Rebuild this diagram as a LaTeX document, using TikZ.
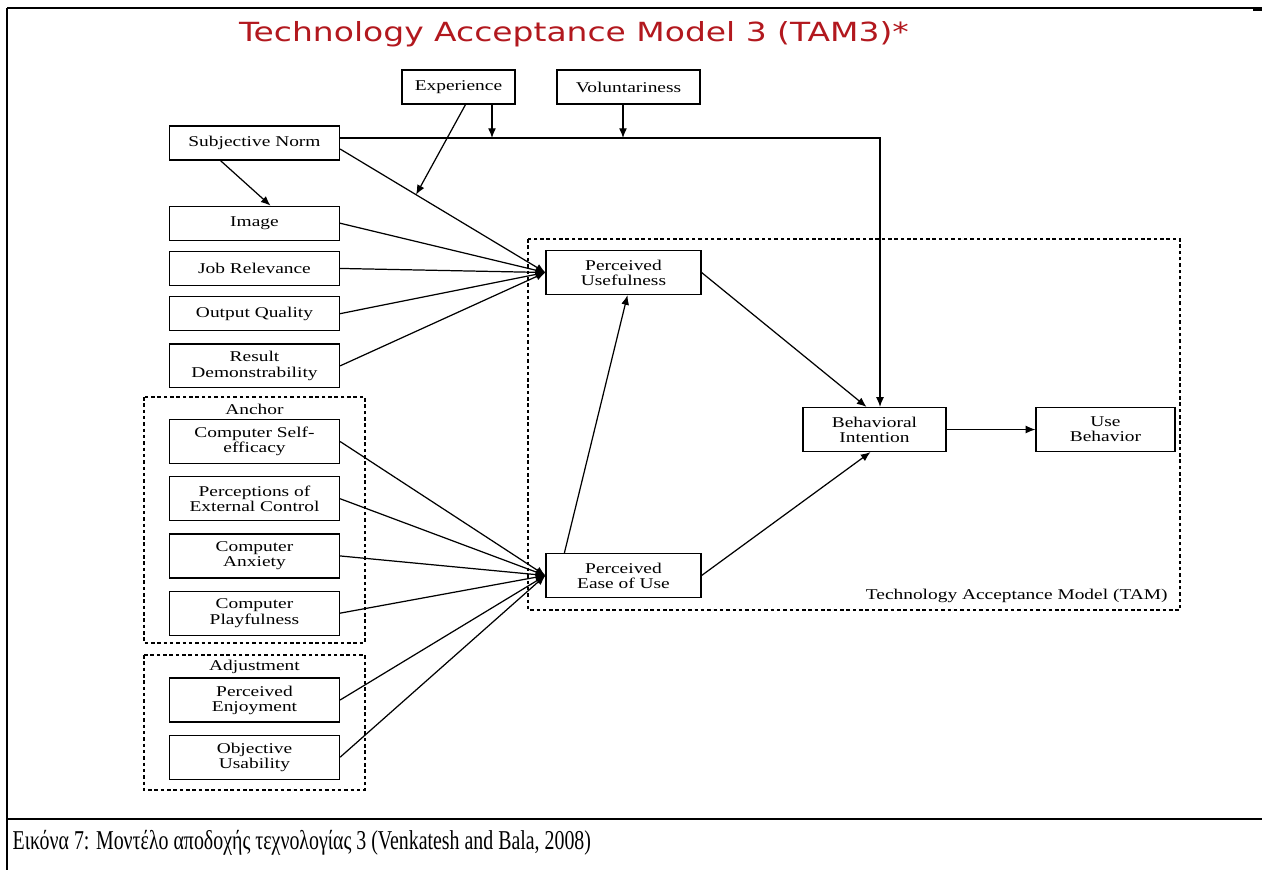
\documentclass[tikz,border=0pt]{standalone}
\usepackage{fontspec}
\usepackage{tikz}
\usetikzlibrary{positioning,calc,arrows.meta}
\newfontfamily\boxfont{Liberation Serif}[FakeStretch=1.3]
\newfontfamily\titlefont{DejaVu Sans}[FakeStretch=1.25]
\newfontfamily\capfont{Liberation Serif}[FakeStretch=0.73]
\definecolor{titlered}{RGB}{178,24,30}

\begin{document}
\begin{tikzpicture}[x=0.02cm,y=-0.02cm,line width=0.7pt,
		font=\boxfont\fontsize{8.5}{8.6}\selectfont,
		factor/.style={draw, align=center, minimum width=3.4cm, minimum height=0.68cm, inner sep=1pt},
		twoline/.style={factor, minimum height=0.88cm},
		groupbox/.style={draw, dash pattern=on 2pt off 1.6pt, line width=0.8pt},
		arr/.style={-{Latex[length=5.5pt,width=4.5pt]}}]
		\useasboundingbox (0,0) rectangle (1262,870);

		% frame of the table cell
		\draw[line width=1pt] (7,8) -- (1254,8);
		\draw[line width=1.8pt] (1253,9) -- (1262,9);
		\draw[line width=1pt] (7,8) -- (7,870);
		\draw[line width=1.6pt] (7,819) -- (1262,819);

		\node[font=\titlefont\fontsize{15}{16}\selectfont, text=titlered] (title) at (574,34) {Technology Acceptance Model 3 (TAM3)*};

		\node[factor, minimum width=2.26cm] (exp) at (458.5,87) {Experience};
		\node[factor, minimum width=2.86cm] (vol) at (628.5,87) {Voluntariness};

		\node[factor] (sn) at (254.5,143) {Subjective Norm};
		\node[factor, below=0.9cm of sn] (img) {Image};
		\node[factor, below=0.2cm of img] (jr) {Job Relevance};
		\node[factor, below=0.2cm of jr] (oq) {Output Quality};
		\node[twoline, below=0.24cm of oq] (rd) {Result\\Demonstrability};

		% anchor group
		\draw[groupbox] (144,397) rectangle (365,643);
		\node (anchorlbl) at (254.5,409) {Anchor};
		\node[twoline] (cse) at (254.5,441.5) {Computer Self-\\efficacy};
		\node[twoline, below=0.24cm of cse] (pec) {Perceptions of\\External Control};
		\node[twoline, below=0.24cm of pec] (ca) {Computer\\Anxiety};
		\node[twoline, below=0.24cm of ca] (cp) {Computer\\Playfulness};

		% adjustment group
		\draw[groupbox] (144,655) rectangle (365,790);
		\node (adjlbl) at (254.5,667) {Adjustment};
		\node[twoline] (pe) at (254.5,700) {Perceived\\Enjoyment};
		\node[twoline, below=0.24cm of pe] (ou) {Objective\\Usability};

		% TAM core
		\draw[groupbox] (528,239) rectangle (1180,610);
		\node[anchor=east] (tamlbl) at (1174,596) {Technology Acceptance Model (TAM)};
		\node[twoline, minimum width=3.1cm] (pu) at (623.5,272.5) {Perceived\\Usefulness};
		\node[twoline, minimum width=3.1cm] (peou) at (623.5,575.5) {Perceived\\Ease of Use};
		\node[twoline, minimum width=2.86cm] (bi) at (874.5,429.5) {Behavioral\\Intention};
		\node[twoline, minimum width=2.78cm] (ub) at (1105.5,429.5) {Use\\Behavior};

		\coordinate (snout) at ($(sn.east)+(0,6)$);
		\coordinate (m1) at (492,138);
		\coordinate (m2) at (623,138);
		\coordinate (m3) at ($(snout)!0.37!(pu.west)$);

		\draw (img.east) edge[arr] (pu.west)
		(jr.east) edge[arr] (pu.west)
		(oq.east) edge[arr] (pu.west)
		(rd.east) edge[arr] (pu.west)
		(snout) edge[arr] (pu.west)
		(cse.east) edge[arr] (peou.west)
		(pec.east) edge[arr] (peou.west)
		(ca.east) edge[arr] (peou.west)
		(cp.east) edge[arr] (peou.west)
		(pe.east) edge[arr] (peou.west)
		(ou.east) edge[arr] (peou.west)
		(bi.east) edge[arr] (ub.west);

		\draw[arr] ($(sn.south)+(-34,0)$) -- ($(img.north)+(16,0)$);
		\draw[arr] ($(exp.south)+(7,0)$) -- (m3);
		\draw[arr] (exp.south -| m1) -- (m1);
		\draw[arr] (vol.south -| m2) -- (m2);
		\draw[arr] ($(sn.east)+(0,-5)$) -- (880,138) -- (bi.north -| 880,0);

		\draw[arr] ($(peou.north west)+(19,0)$) -- ($(pu.south)+(4,0)$);
		\draw[arr] (pu.east) -- ($(bi.north)+(-8,0)$);
		\draw[arr] (peou.east) -- ($(bi.south)+(-4,0)$);

		\node[anchor=west, inner sep=0pt, font=\capfont\fontsize{15.5}{17}\selectfont] (caption) at (12,843) {Εικόνα 7: Μοντέλο αποδοχής τεχνολογίας 3 (Venkatesh and Bala, 2008)};
	\end{tikzpicture}
\end{document}
